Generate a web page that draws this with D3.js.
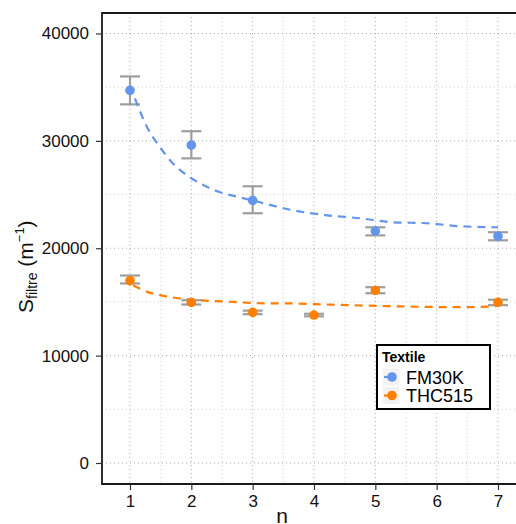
<!DOCTYPE html>
<html><head><meta charset="utf-8">
<script src="https://cdn.jsdelivr.net/npm/d3@7"></script>
<style>body{margin:0;background:#fff;font-family:"Liberation Sans",Arial,sans-serif}</style>
</head><body><svg id="c" width="516" height="524"></svg>
<script>
const xTicks = [1,2,3,4,5,6,7];
const yTicks = [0,10000,20000,30000,40000];
const seriesNames = ["FM30K","THC515"];
const seriesColors = ["#6495ED","#FF7F00"];
const fmN    = [1,2,3,5,7];
const fmVal  = [34700,29600,24450,21600,21120];
const fmLo   = [33400,28370,23260,21200,20740];
const fmHi   = [36000,30900,25770,21950,21490];
const thN    = [1,2,3,4,5,7];
const thVal  = [16980,14950,14030,13780,16070,14960];
const thLo   = [16720,14760,13860,13660,15810,14700];
const thHi   = [17460,15160,14190,13900,16370,15210];
// fitted curves
const fmFitN = [1.08,1.28,1.49,1.70,1.93,2.14,2.47,2.79,3.12,3.66,4.21,4.75,5.29,5.84,6.38,7.0];
const fmFitV = [33950,31260,29400,27900,26790,26050,25210,24740,24280,23530,23070,22790,22420,22330,22050,21950];
const thFitN = [1.05,1.28,1.49,1.82,2.14,2.68,3.12,3.66,4.21,4.75,5.29,5.84,6.38,6.92,7.0];
const thFitV = [16560,15940,15630,15320,15160,15000,14880,14860,14760,14670,14600,14540,14510,14580,14700];

const svg = d3.select("#c");
const L=102, T=13, B=484, R=540;
const x = d3.scaleLinear().domain([1,7]).range([130,498]);
const y = d3.scaleLinear().domain([0,40000]).range([463,33.5]);

// grid
const g = svg.append("g");
const minorX = d3.range(0.5,7.6,1).filter(v=>x(v)>L && x(v)<R);
const minorY = [5000,15000,25000,35000];
g.selectAll(".mx").data(minorX).enter().append("line")
 .attr("x1",d=>x(d)).attr("x2",d=>x(d)).attr("y1",T).attr("y2",B)
 .attr("stroke","#d4d4d4").attr("stroke-width",1).attr("stroke-dasharray","1,3");
g.selectAll(".my").data(minorY).enter().append("line")
 .attr("x1",L).attr("x2",R).attr("y1",d=>y(d)).attr("y2",d=>y(d))
 .attr("stroke","#d4d4d4").attr("stroke-width",1).attr("stroke-dasharray","1,3");
g.selectAll(".Mx").data(xTicks).enter().append("line")
 .attr("x1",d=>x(d)).attr("x2",d=>x(d)).attr("y1",T).attr("y2",B)
 .attr("stroke","#aaa").attr("stroke-width",1).attr("stroke-dasharray","1,3");
g.selectAll(".My").data(yTicks).enter().append("line")
 .attr("x1",L).attr("x2",R).attr("y1",d=>y(d)).attr("y2",d=>y(d))
 .attr("stroke","#aaa").attr("stroke-width",1).attr("stroke-dasharray","1,3");

// error bars
function errbars(ns, lo, hi){
  const eg = svg.append("g").attr("stroke","#9e9e9e").attr("stroke-width",2.2).attr("fill","none");
  ns.forEach((n,i)=>{
    eg.append("line").attr("x1",x(n)).attr("x2",x(n)).attr("y1",y(lo[i])).attr("y2",y(hi[i]));
    eg.append("line").attr("x1",x(n)-10).attr("x2",x(n)+10).attr("y1",y(lo[i])).attr("y2",y(lo[i]));
    eg.append("line").attr("x1",x(n)-10).attr("x2",x(n)+10).attr("y1",y(hi[i])).attr("y2",y(hi[i]));
  });
}
errbars(fmN,fmLo,fmHi);
errbars(thN,thLo,thHi);

// points
function pts(ns, vals, col){
  svg.append("g").selectAll("circle").data(ns).enter().append("circle")
   .attr("cx",d=>x(d)).attr("cy",(d,i)=>y(vals[i])).attr("r",4.8).attr("fill",col);
}
pts(fmN,fmVal,seriesColors[0]);
pts(thN,thVal,seriesColors[1]);

// fits
const line = d3.line().x(d=>x(d[0])).y(d=>y(d[1])).curve(d3.curveMonotoneX);
svg.append("path").attr("d",line(d3.zip(fmFitN,fmFitV))).attr("fill","none")
 .attr("stroke",seriesColors[0]).attr("stroke-width",2.2).attr("stroke-dasharray","8,6");
svg.append("path").attr("d",line(d3.zip(thFitN,thFitV))).attr("fill","none")
 .attr("stroke",seriesColors[1]).attr("stroke-width",2.2).attr("stroke-dasharray","8,6");

// panel border (top, left, bottom)
svg.append("path").attr("d",`M${R},${T}H${L}V${B}H${R}`).attr("fill","none")
 .attr("stroke","#1a1a1a").attr("stroke-width",1.8);

// axes
const xa = svg.append("g").attr("transform",`translate(0,${B})`)
 .call(d3.axisBottom(x).tickValues(xTicks).tickFormat(d3.format("d")).tickSize(6).tickPadding(5));
const ya = svg.append("g").attr("transform",`translate(${L},0)`)
 .call(d3.axisLeft(y).tickValues(yTicks).tickFormat(d3.format("d")).tickSize(6).tickPadding(7));
[xa,ya].forEach(a=>{
  a.select(".domain").remove();
  a.selectAll(".tick line").attr("stroke","#333").attr("stroke-width",1.2);
  a.selectAll(".tick text").attr("font-size",17).attr("fill","#111")
   .attr("font-family","Liberation Sans, Arial, sans-serif");
});

// axis titles
svg.append("text").attr("x",282).attr("y",523).attr("text-anchor","middle")
 .attr("font-size",21).attr("fill","#111").text("n");
const yt = svg.append("text").attr("transform","translate(33,313) rotate(-90)")
 .attr("text-anchor","start").attr("fill","#111").attr("font-size",21);
yt.append("tspan").text("S");
yt.append("tspan").attr("font-size",14).attr("dy",4).text("filtre");
yt.append("tspan").attr("dy",-4).text(" (m");
yt.append("tspan").attr("font-size",13).attr("dy",-9).text("\u22121");
yt.append("tspan").attr("dy",9).text(")");

// legend
const lg = svg.append("g");
lg.append("rect").attr("x",377).attr("y",345).attr("width",113).attr("height",64)
 .attr("fill","#fff").attr("stroke","#000").attr("stroke-width",2);
lg.append("text").attr("x",382).attr("y",362).attr("font-size",14).attr("font-weight","bold")
 .attr("fill","#000").text("Textile");
seriesNames.forEach((s,i)=>{
  const cy = 377 + i*18.5;
  lg.append("rect").attr("x",382).attr("y",cy-9).attr("width",18).attr("height",18)
   .attr("fill","#f2f2f2").attr("stroke","#fff").attr("stroke-width",1);
  lg.append("line").attr("x1",384).attr("x2",392).attr("y1",cy).attr("y2",cy)
   .attr("stroke",seriesColors[i]).attr("stroke-width",2.2);
  lg.append("circle").attr("cx",392).attr("cy",cy).attr("r",4.8).attr("fill",seriesColors[i]);
  lg.append("text").attr("x",406).attr("y",cy+6.5).attr("font-size",18).attr("fill","#000").text(s);
});
</script></body></html>
